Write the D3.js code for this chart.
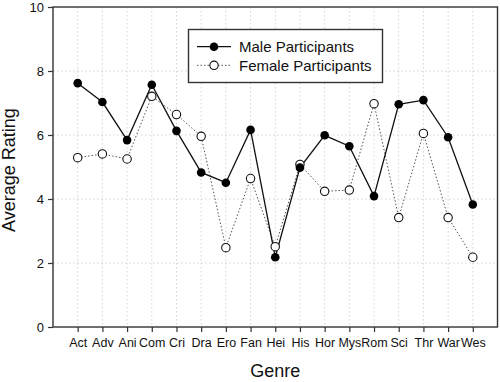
<!DOCTYPE html>
<html><head><meta charset="utf-8">
<script src="https://cdn.jsdelivr.net/npm/d3@7"></script>
<style>
html,body{margin:0;padding:0;background:#fff;}
svg{display:block;font-family:"Liberation Sans",Arial,sans-serif;}
</style></head>
<body>
<svg id="chart" width="500" height="382"></svg>
<script>
const genres = ["Act","Adv","Ani","Com","Cri","Dra","Ero","Fan","Hei","His","Hor","Mys","Rom","Sci","Thr","War","Wes"];
const maleRatings = [7.62,7.03,5.84,7.57,6.13,4.83,4.51,6.16,2.18,4.98,5.99,5.65,4.09,6.96,7.09,5.93,3.83];
const femaleRatings = [5.29,5.41,5.25,7.21,6.64,5.96,2.48,4.64,2.51,5.08,4.24,4.28,6.98,3.42,6.05,3.42,2.18];
const yTicks = [0,2,4,6,8,10];
const seriesNames = ["Male Participants","Female Participants"];

const svg = d3.select("#chart");
const L = 53, R = 497.5, T = 7, B = 327;
const x = d3.scaleLinear().domain([-1, genres.length]).range([L, R]);
const y = d3.scaleLinear().domain([0, 10]).range([B, T]);

// grid
const grid = svg.append("g").attr("stroke","#c8c8c8").attr("stroke-width",0.8).attr("stroke-dasharray","1.5,2.5");
grid.selectAll("line.v").data(genres).join("line")
  .attr("x1",(d,i)=>x(i)).attr("x2",(d,i)=>x(i)).attr("y1",T).attr("y2",B);
grid.selectAll("line.h").data(yTicks.filter(t=>t>0&&t<10)).join("line")
  .attr("x1",L).attr("x2",R).attr("y1",d=>y(d)).attr("y2",d=>y(d));

// axes
const xAxis = d3.axisBottom(x).tickValues(d3.range(genres.length)).tickFormat(i=>genres[i]).tickSize(5).tickPadding(6).tickSizeOuter(0);
const gx = svg.append("g").attr("transform",`translate(0,${B})`).call(xAxis);
gx.selectAll("text").attr("font-size","12.5px").attr("fill","#111").attr("font-family","Liberation Sans, Arial, sans-serif");
const yAxis = d3.axisLeft(y).tickValues(yTicks).tickSize(5).tickPadding(4).tickSizeOuter(0);
const gy = svg.append("g").attr("transform",`translate(${L},0)`).call(yAxis);
gy.selectAll("text").attr("font-size","13px").attr("fill","#111").attr("font-family","Liberation Sans, Arial, sans-serif");
svg.selectAll(".domain").remove();
svg.selectAll(".tick line").attr("stroke","#333").attr("stroke-width",1.2);

// frame
svg.append("rect").attr("x",L).attr("y",T).attr("width",R-L).attr("height",B-T)
  .attr("fill","none").attr("stroke","#333").attr("stroke-width",1.4);

// lines
const line = d3.line().x((d,i)=>x(i)).y(d=>y(d));
svg.append("path").datum(femaleRatings).attr("d",line).attr("fill","none")
  .attr("stroke","#555").attr("stroke-width",1).attr("stroke-dasharray","1.5,2");
svg.append("path").datum(maleRatings).attr("d",line).attr("fill","none")
  .attr("stroke","#111").attr("stroke-width",1.3);

svg.append("g").selectAll("circle").data(femaleRatings).join("circle")
  .attr("cx",(d,i)=>x(i)).attr("cy",d=>y(d)).attr("r",4.2)
  .attr("fill","#fff").attr("stroke","#111").attr("stroke-width",1.1);
svg.append("g").selectAll("circle").data(maleRatings).join("circle")
  .attr("cx",(d,i)=>x(i)).attr("cy",d=>y(d)).attr("r",4.3)
  .attr("fill","#000");

// axis titles
svg.append("text").attr("x",(L+R)/2).attr("y",377).attr("text-anchor","middle")
  .attr("font-size","18px").attr("fill","#111").text("Genre");
svg.append("text").attr("transform","translate(15,170) rotate(-90)").attr("text-anchor","middle")
  .attr("font-size","18px").attr("fill","#111").text("Average Rating");

// legend
const lg = svg.append("g");
lg.append("rect").attr("x",188.5).attr("y",29.5).attr("width",194).attr("height",53)
  .attr("fill","#fff").attr("stroke","#333").attr("stroke-width",1.4);
const ly = [46.7, 65.3];
lg.append("line").attr("x1",197).attr("x2",231).attr("y1",ly[0]).attr("y2",ly[0]).attr("stroke","#111").attr("stroke-width",1.3);
lg.append("circle").attr("cx",214).attr("cy",ly[0]).attr("r",4.3).attr("fill","#000");
lg.append("line").attr("x1",197).attr("x2",231).attr("y1",ly[1]).attr("y2",ly[1]).attr("stroke","#555").attr("stroke-width",1).attr("stroke-dasharray","1.5,2");
lg.append("circle").attr("cx",214).attr("cy",ly[1]).attr("r",4.2).attr("fill","#fff").attr("stroke","#111").attr("stroke-width",1.1);
lg.selectAll("text").data(seriesNames).join("text")
  .attr("x",239).attr("y",(d,i)=>ly[i]+5.2).attr("font-size","15px").attr("fill","#111").text(d=>d);
</script>
</body></html>
